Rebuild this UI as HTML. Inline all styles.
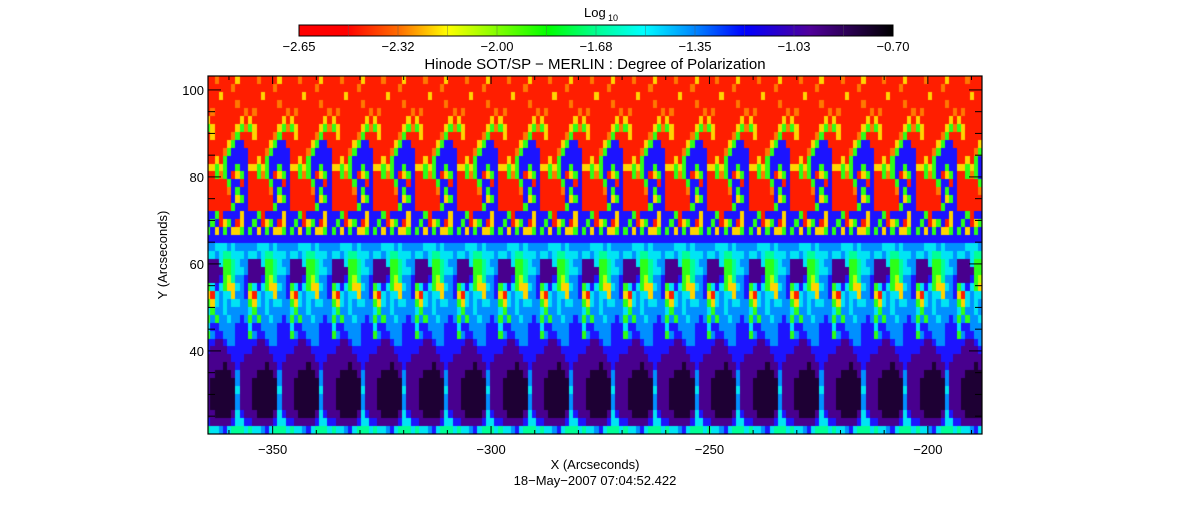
<!DOCTYPE html>
<html><head><meta charset="utf-8"><style>
body{margin:0;background:#fff;width:1190px;height:512px;overflow:hidden;font-family:"Liberation Sans",sans-serif;}
#wrap{position:relative;width:1190px;height:512px;}
canvas{position:absolute;left:0;top:0;}
</style></head><body>
<div id="wrap">
<canvas id="hm" width="1190" height="512"></canvas>
<svg id="ax" width="1190" height="512" style="position:absolute;left:0;top:0"></svg>
</div>
<script>
// ---- data ----
const xRange = [-364.8, -187.6];
const yRange = [20.9, 103.2];
const xTicks = [-350, -300, -250, -200];
const yTicks = [40, 60, 80, 100];
const cbarLabels = ["-2.65","-2.32","-2.00","-1.68","-1.35","-1.03","-0.70"];
const stripStarts = [-365.2,-355.6,-346.1,-336.5,-327.0,-317.4,-307.9,-298.3,-288.8,-279.2,-269.7,-260.1,-250.6,-241.0,-231.5,-221.9,-212.4,-202.8,-193.3];
const stripRows = [
"0010000200","0000001000","0002000000","0000000100","0100000001","2000000020",
"4200000241","0200001400","0000024880","0000148888","0020488888","2242488488",
"0041480248","0000048808","0000018488","0000008248","0000004888","8840888828",
"8480248028","4828482248","8888888888","7766676777","6676556667","9996445677",
"9999445667","9998435778","4686422678","2067662778","4267676677","6477677777",
"4747767787","6887777888","4788777888","8899877888","8999988888","9999998889",
"9999A99899","99AAAA9799","9AAAAAA799","9AAAAAA699","9AAAAAA799","9AAAAAA799",
"99AAAA9689","8999998668","5667865556"];
const palette = {"0":"#ff1e00","1":"#ff7800","2":"#ffd400","3":"#b4ff00","4":"#2cff18","5":"#00ff96","6":"#00e4f4","7":"#0090ff","8":"#1c14ff","9":"#48008e","A":"#1e0034"};

// ---- layout ----
const L=208,R=982,T=76,B=434;
const sx=v=>L+(v-xRange[0])/(xRange[1]-xRange[0])*(R-L);
const sy=v=>B-(v-yRange[0])/(yRange[1]-yRange[0])*(B-T);

// ---- heatmap ----
const cv=document.getElementById('hm'),ctx=cv.getContext('2d');
const sw=(R-L)/(xRange[1]-xRange[0])*9.55;
const nr=stripRows.length, rh=(B-T)/nr;
ctx.save();ctx.beginPath();ctx.rect(L,T,R-L,B-T);ctx.clip();
stripStarts.forEach(s=>{
  const x0=sx(s), cw=sw/10;
  stripRows.forEach((r,j)=>{
    for(let i=0;i<r.length;i++){
      const xa=Math.round(x0+i*cw), xb=Math.round(x0+(i+1)*cw);
      const ya=Math.round(T+j*rh), yb=Math.round(T+(j+1)*rh);
      ctx.fillStyle=palette[r[i]];
      ctx.fillRect(xa,ya,xb-xa+1,yb-ya+1);
    }
  });
});
ctx.restore();

// ---- axes (SVG) ----
const NS="http://www.w3.org/2000/svg",svg=document.getElementById('ax');
function el(tag,attrs,text){const e=document.createElementNS(NS,tag);for(const k in attrs)e.setAttribute(k,attrs[k]);if(text!==undefined)e.textContent=text;svg.appendChild(e);return e;}
let f=el('rect',{x:L,y:T,width:R-L,height:B-T,fill:'none',stroke:'#000','stroke-width':1.2});


for(let v=-360;v<=-190;v+=10){
  const x=sx(v),len=(v%50===0)?8:4;
  let a=el('line',{x1:x,y1:B,x2:x,y2:B-len,stroke:'#000'});
  
  
  let b=el('line',{x1:x,y1:T,x2:x,y2:T+len,stroke:'#000'});
  
  
}
xTicks.forEach(v=>{
  let t=el('text',{x:sx(v),y:B+20,'text-anchor':'middle','font-size':13,'font-family':'Liberation Sans, sans-serif'},'\u2212'+Math.abs(v));
  
  
});
for(let v=25;v<=100;v+=5){
  const y=sy(v),len=(v%20===0)?13:7;
  let a=el('line',{x1:L,y1:y,x2:L+len,y2:y,stroke:'#000'});
  
  
  let b=el('line',{x1:R,y1:y,x2:R-len,y2:y,stroke:'#000'});
  
  
}
yTicks.forEach(v=>{
  let t=el('text',{x:L-4,y:sy(v)+5,'text-anchor':'end','font-size':13,'font-family':'Liberation Sans, sans-serif'},String(v));
  
  
});
let yl=el('text',{x:0,y:0,transform:'translate(167,255) rotate(-90)','text-anchor':'middle','font-size':13,'font-family':'Liberation Sans, sans-serif'},'Y (Arcseconds)');


let xl=el('text',{x:595,y:469,'text-anchor':'middle','font-size':13,'font-family':'Liberation Sans, sans-serif'},'X (Arcseconds)');


let dt=el('text',{x:595,y:485,'text-anchor':'middle','font-size':13,'font-family':'Liberation Sans, sans-serif'},'18\u2212May\u22122007 07:04:52.422');


let ti=el('text',{x:595,y:69,'text-anchor':'middle','font-size':15,'font-family':'Liberation Sans, sans-serif'},'Hinode SOT/SP \u2212 MERLIN : Degree of Polarization');



// ---- colorbar ----
const CL=299,CR=893,CT=25,CB=36;
const defs=el('defs',{});
const g=document.createElementNS(NS,'linearGradient');g.setAttribute('id','cg');defs.appendChild(g);
[[0,'#ff0000'],[0.08,'#ff0000'],[0.17,'#ff7000'],[0.25,'#ffff00'],[0.42,'#00ff00'],[0.5,'#00ff90'],[0.58,'#00ffff'],[0.67,'#0080ff'],[0.75,'#0000ff'],[0.86,'#50009a'],[1,'#000000']].forEach(s=>{
  const st=document.createElementNS(NS,'stop');st.setAttribute('offset',s[0]);st.setAttribute('stop-color',s[1]);g.appendChild(st);
});
let cb=el('rect',{x:CL,y:CT,width:CR-CL,height:CB-CT,fill:'url(#cg)',stroke:'#000'});


for(let k=1;k<12;k++){
  let d=el('line',{x1:CL+k*(CR-CL)/12,y1:CT,x2:CL+k*(CR-CL)/12,y2:CB,stroke:'#555','stroke-width':0.6,opacity:0.6});
  
  
}
cbarLabels.forEach((s,k)=>{
  let t=el('text',{x:CL+k*(CR-CL)/6,y:51,'text-anchor':'middle','font-size':13,'font-family':'Liberation Sans, sans-serif'},s.replace('-','\u2212'));
  
  
});
let lg=el('text',{x:584,y:17,'font-size':13,'font-family':'Liberation Sans, sans-serif'},'Log');


let lg2=el('text',{x:608,y:21,'font-size':9,'font-family':'Liberation Sans, sans-serif'},'10');


</script>
</body></html>
